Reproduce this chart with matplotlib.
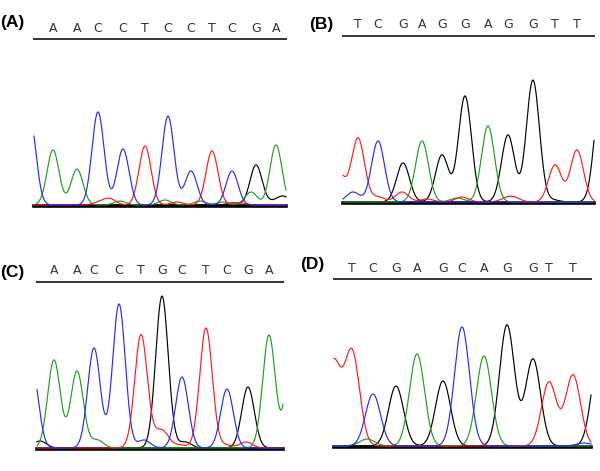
import numpy as np
import matplotlib
matplotlib.use("Agg")
import matplotlib.pyplot as plt

# base -> dye colour (ABI style)
colors = {"A": "#1ea01e", "C": "#2a2aff", "G": "#000000", "T": "#ff1a1a"}

# Panel A: called peaks (position along trace, height above baseline)
seq_a = "AACCTCCTCGA"
pos_a = [19, 43, 64, 89, 111, 134, 157, 178, 198, 222, 242]
hgt_a = [55, 36, 93, 56, 59, 89, 34, 54, 34, 40, 60]
# minor / edge peaks
xb_a = "CTTAAATAAGTGGG"
xp_a = [-4, 66, 76, 86, 131, 166, 143, 189, 217, 199, 206, 246, 252, 236]
xh_a = [86, 3, 6, 4, 5, 4, 3, 3, 13, 2, 2, 5, 5, 2]

# Panel B
seq_b = "TCGAGGAGGTT"
pos_b = [15, 35, 60, 79, 99, 122, 145, 165, 190, 212, 234]
hgt_b = [64, 61, 39, 61, 47, 106, 76, 67, 114, 37, 52]
xb_b = "TCTTGTTATTGG"
xp_b = [-5, 10, 35, 59, 258, 84, 119, 114, 171, 163, 189, 210]
xh_b = [30, 10, 5, 10, 110, 3, 5, 4, 4, 3, 8, 2]

# Panel C
seq_c = "AACCTGCTCGA"
pos_c = [17, 40, 57, 82, 104, 125, 145, 169, 190, 211, 232]
hgt_c = [88, 77, 100, 144, 113, 152, 71, 120, 59, 61, 113]
xb_c = "CAGACTTGTTT"
xp_c = [-5, 256, 3, 60, 107, 126, 118, 148, 143, 188, 209]
xh_c = [80, 120, 7, 8, 8, 15, 6, 6, 3, 3, 6]

# Panel D
seq_d = "TCGAGCAGGTT"
pos_d = [18, 39, 62, 83, 109, 128, 150, 173, 199, 215, 239]
hgt_d = [94, 52, 60, 92, 65, 119, 90, 121, 87, 64, 71]
xb_d = "TAGC"
xp_d = [-1, 33, 265, 250]
xh_d = [83, 7, 90, 3]

panels = [
    ("(A)", seq_a, pos_a, hgt_a, xb_a, xp_a, xh_a, 6.0),
    ("(B)", seq_b, pos_b, hgt_b, xb_b, xp_b, xh_b, 6.5),
    ("(C)", seq_c, pos_c, hgt_c, xb_c, xp_c, xh_c, 6.3),
    ("(D)", seq_d, pos_d, hgt_d, xb_d, xp_d, xh_d, 7.5),
]

# layout in pixels: left, right, top(underline), bottom(baseline)
boxes = [(34, 286, 39, 205), (343, 594, 36, 202), (37, 283, 282, 448), (334, 591, 279, 446)]
label_xy = [(0, 22), (309, 25), (0, 272), (300, 264)]

W, H = 600, 471
fig = plt.figure(figsize=(6, 4.71), dpi=100)

for (lab, seq, pos, hgt, xb, xp, xh, sig), (l, r, t, b), (lx, ly) in zip(panels, boxes, label_xy):
    w, h = r - l, b - t
    ax = fig.add_axes([l / W, 1 - b / H, w / W, h / H])
    ax.set_xlim(0, w)
    ax.set_ylim(0, h)
    ax.set_xticks([])
    ax.set_yticks([])
    for s in ["left", "right", "bottom"]:
        ax.spines[s].set_visible(False)
    ax.spines["top"].set_linewidth(1.4)
    ax.spines["top"].set_color("#333333")

    ax.axhline(-0.5, color="black", lw=2.6, zorder=1, clip_on=False)

    x = np.linspace(0, w, 800)
    bases = list(seq) + list(xb)
    allp = list(pos) + list(xp)
    allh = list(hgt) + list(xh)
    for base in "GATC":
        y = np.zeros_like(x)
        for bb, p, hh in zip(bases, allp, allh):
            if bb == base:
                y += hh * np.exp(-(x - p) ** 2 / (2 * sig ** 2))
        ax.plot(x, y, color=colors[base], lw=0.85, zorder=2, clip_on=False)

    for letter, p in zip(seq, pos):
        ax.annotate(letter, xy=(p, h), xycoords="data", xytext=(0, 11),
                    textcoords="offset pixels", ha="center", va="center",
                    fontsize=9, color="#333333",
                    family=["Liberation Sans Narrow", "DejaVu Sans"])

    fig.text(lx / W, 1 - ly / H, lab, fontsize=12.5, fontweight="bold",
             family="Liberation Sans", ha="left", va="center")

fig.savefig("out.png", dpi=100)
